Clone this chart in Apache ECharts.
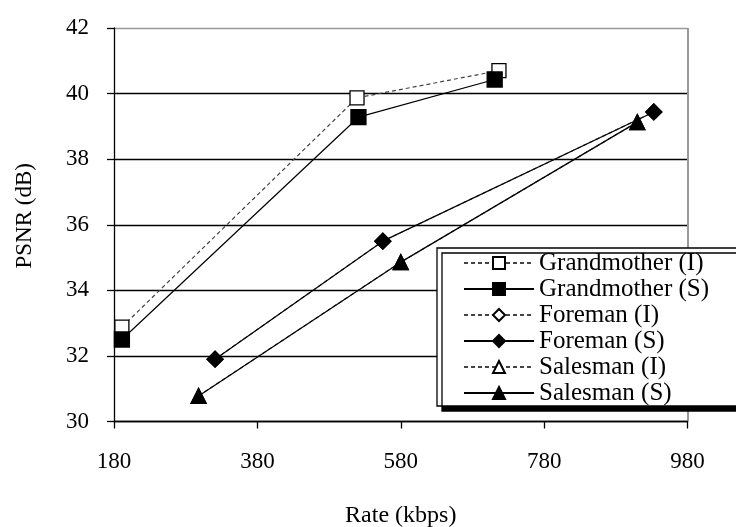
<!DOCTYPE html>
<html>
<head>
<meta charset="utf-8">
<script src="https://cdn.jsdelivr.net/npm/echarts@6/dist/echarts.min.js"></script>
<style>
html,body{margin:0;padding:0;background:#fff;}
#chart{width:736px;height:527px;}
</style>
</head>
<body>
<div id="chart"></div>
<script>
const seriesNames = ['Grandmother (I)', 'Grandmother (S)', 'Foreman (I)', 'Foreman (S)', 'Salesman (I)', 'Salesman (S)'];
const grandmotherI = [[191, 32.88], [519, 39.87], [717, 40.70]];
const grandmotherS = [[191, 32.50], [521, 39.28], [711, 40.43]];
const foremanI = [[321, 31.90], [555, 35.50], [933, 39.44]];
const foremanS = [[321, 31.90], [555, 35.50], [933, 39.44]];
const salesmanI = [[298, 30.78], [580, 34.86], [910, 39.13]];
const salesmanS = [[298, 30.78], [580, 34.86], [910, 39.13]];
const xTicks = [180, 380, 580, 780, 980];
const yTicks = [30, 32, 34, 36, 38, 40, 42];

const FONT = '"Liberation Serif", "Times New Roman", serif';
const chart = echarts.init(document.getElementById('chart'), null, {renderer: 'canvas'});

function mk(name, data, symbol, filled, dashed, size) {
  return {
    name: name,
    type: 'line',
    data: data,
    symbol: symbol,
    symbolSize: size,
    showSymbol: true,
    z: dashed ? 2 : 3,
    itemStyle: {color: filled ? '#000' : '#fff', borderColor: '#000', borderWidth: 1.3},
    lineStyle: {color: dashed ? '#444' : '#000', width: 1.2, type: dashed ? [4, 3] : 'solid'},
    emphasis: {disabled: true},
    animation: false
  };
}

const option = {
  backgroundColor: '#fff',
  animation: false,
  grid: {left: 114, right: 48.5, top: 28, bottom: 105.5, containLabel: false, outerBoundsMode: 'none'},
  xAxis: {
    type: 'value',
    min: xTicks[0],
    max: xTicks[xTicks.length - 1],
    interval: 200,
    name: 'Rate (kbps)',
    nameLocation: 'middle',
    nameGap: 82,
    nameTextStyle: {fontFamily: FONT, fontSize: 24, color: '#000'},
    axisLine: {show: true, lineStyle: {color: '#000', width: 1.3}},
    axisTick: {show: true, inside: false, length: 7, lineStyle: {color: '#000', width: 1.3}},
    axisLabel: {fontFamily: FONT, fontSize: 23, color: '#000', margin: 29},
    splitLine: {show: true, lineStyle: {color: ['rgba(0,0,0,0)', 'rgba(0,0,0,0)', 'rgba(0,0,0,0)', 'rgba(0,0,0,0)', '#999'], width: 2}}
  },
  yAxis: {
    type: 'value',
    min: yTicks[0],
    max: yTicks[yTicks.length - 1],
    interval: 2,
    name: 'PSNR (dB)',
    nameLocation: 'middle',
    nameGap: 78,
    nameTextStyle: {fontFamily: FONT, fontSize: 23, color: '#000', padding: [0, 0, 0, 18]},
    axisLine: {show: true, lineStyle: {color: '#000', width: 1.3}},
    axisTick: {show: true, inside: false, length: 7, lineStyle: {color: '#000', width: 1.3}},
    axisLabel: {fontFamily: FONT, fontSize: 23, color: '#000', margin: 25},
    splitLine: {show: true, lineStyle: {color: ['#000', '#000', '#000', '#000', '#000', '#000', '#999'], width: 1.3}}
  },
  legend: {
    show: true,
    orient: 'vertical',
    left: 437,
    top: 248,
    padding: [2, 70, 0, 26],
    itemWidth: 70,
    itemHeight: 15,
    itemGap: 0,
    backgroundColor: '#fff',
    borderColor: '#000',
    borderWidth: 1.3,
    borderRadius: 0,
    shadowColor: '#000',
    shadowBlur: 0,
    shadowOffsetX: 5,
    shadowOffsetY: 5,
    selectedMode: false,
    textStyle: {fontFamily: FONT, fontSize: 25, color: '#000', lineHeight: 26},
    data: seriesNames
  },
  series: [
    mk(seriesNames[0], grandmotherI, 'rect', false, true, 14),
    mk(seriesNames[1], grandmotherS, 'rect', true, false, 15),
    mk(seriesNames[2], foremanI, 'diamond', false, true, 16),
    mk(seriesNames[3], foremanS, 'diamond', true, false, 16),
    mk(seriesNames[4], salesmanI, 'triangle', false, true, 15),
    mk(seriesNames[5], salesmanS, 'triangle', true, false, 15)
  ]
};
chart.setOption(option);
</script>
</body>
</html>
